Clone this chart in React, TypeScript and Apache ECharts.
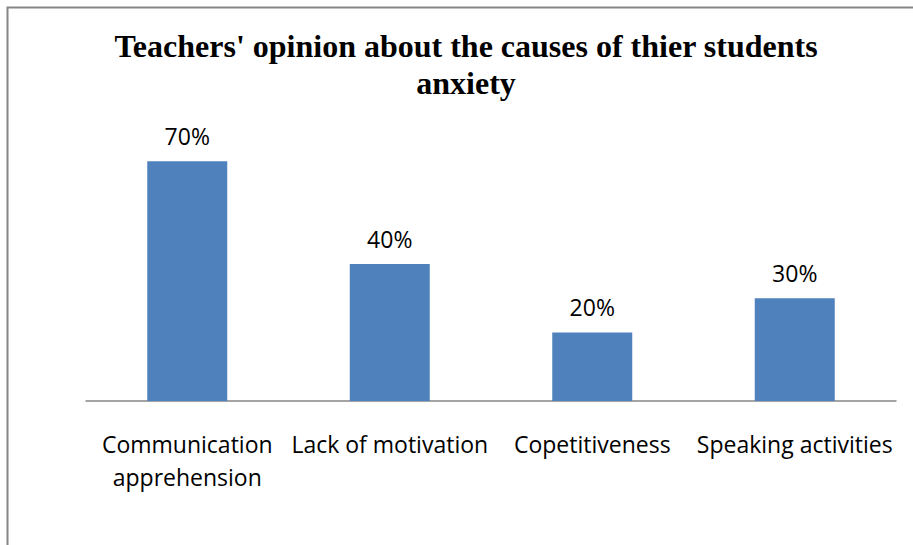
import React, { useEffect, useRef } from "react";
import * as echarts from "echarts";

const categories = [
  "Communication\napprehension",
  "Lack of motivation",
  "Copetitiveness",
  "Speaking activities",
];
const values = [70, 40, 20, 30];
const titleText = "Teachers' opinion about the causes of thier students\nanxiety";

export default function App() {
  const ref = useRef<HTMLDivElement>(null);
  useEffect(() => {
    if (!ref.current) return;
    const chart = echarts.init(ref.current, null, { renderer: "svg" });
    chart.setOption({
      animation: false,
      backgroundColor: "#ffffff",
      graphic: [
        {
          type: "rect",
          shape: { x: 7.5, y: 7.5, width: 1000, height: 700 },
          style: { fill: "none", stroke: "#868686", lineWidth: 2 },
          silent: true,
        },
        {
          type: "text",
          x: 466,
          y: 27,
          style: {
            text: titleText,
            fontFamily: "Liberation Serif",
            fontWeight: "bold",
            fontSize: 32,
            lineHeight: 37,
            fill: "#000",
            align: "center",
            verticalAlign: "top",
          },
        },
      ],
      grid: { left: 86, right: 17, top: 127, bottom: 144, containLabel: false },
      xAxis: {
        type: "category",
        data: categories,
        axisLine: { lineStyle: { color: "#868686", width: 1.5 } },
        axisTick: { show: false },
        axisLabel: {
          interval: 0,
          color: "#000",
          fontFamily: "Open Sans",
          fontSize: 23,
          lineHeight: 33,
          margin: 26,
        },
      },
      yAxis: {
        type: "value",
        min: 0,
        max: 80,
        interval: 10,
        show: false,
        splitLine: { show: false },
      },
      series: [
        {
          type: "bar",
          data: values,
          barWidth: 80,
          itemStyle: { color: "#4F81BD" },
          label: {
            show: true,
            position: "top",
            distance: 14,
            formatter: "{c}%",
            color: "#000",
            fontFamily: "Open Sans",
            fontSize: 23,
          },
        },
      ],
    });
    return () => chart.dispose();
  }, []);
  return (
    <div
      ref={ref}
      style={{ position: "fixed", left: 0, top: 0, width: 913, height: 545 }}
    />
  );
}
